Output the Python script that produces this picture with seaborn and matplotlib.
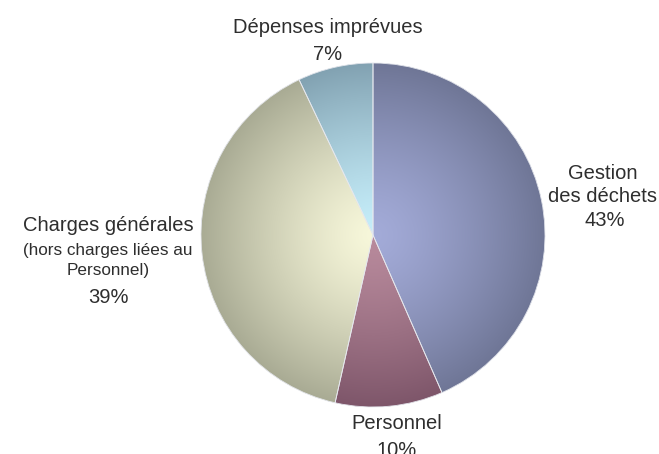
import numpy as np
import matplotlib.pyplot as plt
import seaborn as sns

# budget shares (%), clockwise from the top
categories = ['Gestion des déchets', 'Personnel', 'Charges générales', 'Dépenses imprévues']
shares = [43, 10, 39, 7]
centre_colors = ['#a3abd8', '#b88a9c', '#f7f7da', '#c6eefa']
edge_colors = ['#6f7696', '#7e566a', '#a9ab94', '#82a2b2']

sns.set_theme(style='white')
plt.rcParams['font.family'] = ['Liberation Sans', 'DejaVu Sans']

W, H = 659, 454
cx, cy, R = 373, 235, 172

fig = plt.figure(figsize=(W / 100, H / 100), dpi=100)
ax = fig.add_axes([0, 0, 1, 1])

wedges, _ = ax.pie(shares, startangle=90, counterclock=False, radius=1,
                   wedgeprops=dict(linewidth=0))

# radial shading, one gradient per slice, clipped to its wedge
yy, xx = np.mgrid[-1:1:500j, -1:1:500j]
dist = np.clip(np.hypot(xx, yy), 0, 1) ** 1.3
for w, c0, c1 in zip(wedges, centre_colors, edge_colors):
    w.set_facecolor(c1)
    cmap = sns.blend_palette([c0, c1], as_cmap=True)
    im = ax.imshow(dist, cmap=cmap, vmin=0, vmax=1, extent=(-1, 1, -1, 1),
                   origin='lower', aspect='auto', zorder=2, interpolation='bilinear')
    im.set_clip_path(w)

# thin light outlines on top
ax.pie(shares, startangle=90, counterclock=False, radius=1,
       wedgeprops=dict(fill=False, linewidth=0.6, edgecolor='#e6e8ee', zorder=3))

ax.set_xlim(-cx / R, (W - cx) / R)
ax.set_ylim((cy - H) / R, cy / R)
ax.set_aspect('auto')
ax.axis('off')

big, small = 14.5, 12.3
txt = '#2e2e2e'


def label(px, py, s, size=big):
    fig.text(px / W, 1 - py / H, s, ha='center', va='center', fontsize=size, color=txt)


label(328, 27.5, 'Dépenses imprévues')
label(328, 55, f'{shares[3]}%')

label(603, 173.5, 'Gestion')
label(603, 196.5, 'des déchets')
label(605, 220, f'{shares[0]}%')

label(108, 225.5, 'Charges générales')
label(108, 251, '(hors charges liées au', small)
label(108, 271, 'Personnel)', small)
label(108, 297.5, f'{shares[2]}%')

label(397, 423.5, 'Personnel')
label(397, 450, f'{shares[1]}%')

fig.savefig('out.png', dpi=100)
